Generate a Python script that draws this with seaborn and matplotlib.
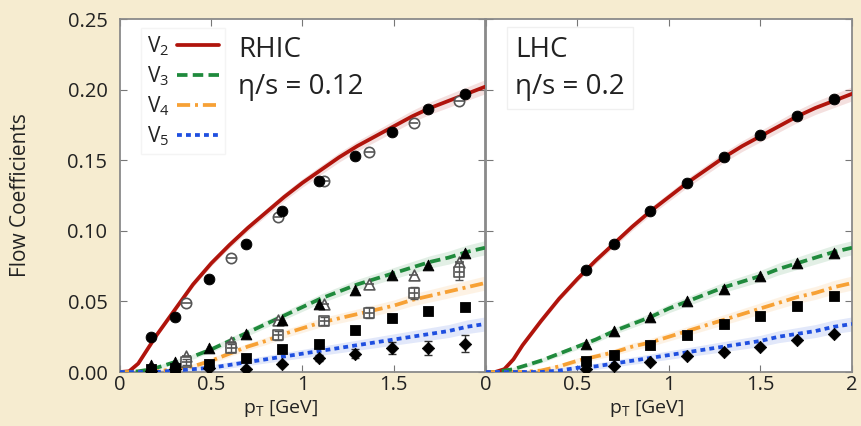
import matplotlib
matplotlib.use("Agg")
import matplotlib.pyplot as plt
import pandas as pd
import numpy as np
import seaborn as sns

sns.set_style("ticks")
plt.rcParams['font.family'] = ['Open Sans', 'DejaVu Sans']

BG = '#f6ecd0'
RED, GREEN, ORANGE, BLUE = '#b0140c', '#1f8a3c', '#f7a135', '#1f4fe0'

### CURVES (hydro calculation) ###
pt_curve = [0, 0.05, 0.1, 0.15, 0.2, 0.3, 0.4, 0.5, 0.6, 0.7, 0.8, 0.9, 1.0, 1.1, 1.2, 1.3, 1.4, 1.5, 1.6, 1.7, 1.8, 1.9, 2.0]

rhic_v2 = [0, 0.0005, 0.006, 0.016, 0.026, 0.044, 0.062, 0.077, 0.090, 0.102, 0.113, 0.124, 0.134, 0.143, 0.152, 0.160, 0.167, 0.174, 0.181, 0.187, 0.192, 0.197, 0.202]
rhic_v3 = [0, 0, 0.0005, 0.0015, 0.003, 0.007, 0.011, 0.016, 0.022, 0.028, 0.034, 0.040, 0.046, 0.052, 0.057, 0.062, 0.066, 0.070, 0.074, 0.078, 0.081, 0.085, 0.088]
rhic_v4 = [0, 0, 0, 0, 0.0005, 0.002, 0.004, 0.008, 0.013, 0.018, 0.022, 0.027, 0.031, 0.035, 0.038, 0.041, 0.044, 0.047, 0.051, 0.054, 0.057, 0.060, 0.063]
rhic_v5 = [0, 0, 0, 0, 0, 0.001, 0.002, 0.003, 0.005, 0.007, 0.009, 0.011, 0.013, 0.015, 0.017, 0.019, 0.021, 0.023, 0.025, 0.027, 0.029, 0.032, 0.034]

lhc_v2 = [0, 0, 0.002, 0.009, 0.019, 0.036, 0.052, 0.066, 0.079, 0.091, 0.103, 0.114, 0.124, 0.134, 0.143, 0.152, 0.160, 0.167, 0.174, 0.181, 0.187, 0.192, 0.197]
lhc_v3 = [0, 0, 0.001, 0.002, 0.004, 0.008, 0.013, 0.018, 0.023, 0.029, 0.034, 0.039, 0.045, 0.050, 0.055, 0.060, 0.064, 0.068, 0.073, 0.077, 0.081, 0.085, 0.088]
lhc_v4 = [0, 0, 0, 0, 0, 0.001, 0.004, 0.008, 0.011, 0.014, 0.018, 0.021, 0.025, 0.029, 0.033, 0.037, 0.041, 0.045, 0.049, 0.053, 0.056, 0.060, 0.063]
lhc_v5 = [0, 0, 0, 0, 0, 0, 0.001, 0.003, 0.004, 0.006, 0.008, 0.010, 0.012, 0.014, 0.016, 0.018, 0.020, 0.022, 0.025, 0.027, 0.029, 0.032, 0.034]

### DATA POINTS ###
rhic_pt = [0.17, 0.30, 0.49, 0.69, 0.89, 1.09, 1.29, 1.49, 1.69, 1.89]
rhic_v2_pts = [0.025, 0.039, 0.066, 0.091, 0.114, 0.135, 0.153, 0.170, 0.186, 0.197]
rhic_v3_pts = [0.005, 0.007, 0.017, 0.027, 0.037, 0.048, 0.058, 0.069, 0.076, 0.084]
rhic_v4_pts = [0.002, 0.003, 0.006, 0.010, 0.016, 0.020, 0.030, 0.038, 0.043, 0.046]
rhic_v5_pts = [0.001, 0.002, 0.003, 0.002, 0.006, 0.010, 0.013, 0.017, 0.017, 0.020]
rhic_v5_err = [0, 0, 0, 0, 0.001, 0.002, 0.003, 0.004, 0.005, 0.006]

# second experiment (open markers)
open_pt = [0.364, 0.61, 0.865, 1.12, 1.366, 1.61, 1.86]
open_v2 = [0.049, 0.081, 0.110, 0.135, 0.156, 0.176, 0.192]
open_v3 = [0.011, 0.021, 0.037, 0.048, 0.062, 0.069, 0.078]
open_v4 = [0.007, 0.017, 0.026, 0.036, 0.042, 0.056, 0.071]
open_v4_err = [0.002, 0.003, 0.003, 0.003, 0.004, 0.004, 0.006]

lhc_pt = [0.545, 0.70, 0.896, 1.098, 1.30, 1.50, 1.70, 1.90]
lhc_v2_pts = [0.072, 0.091, 0.114, 0.134, 0.152, 0.168, 0.181, 0.193]
lhc_v3_pts = [0.020, 0.029, 0.039, 0.050, 0.059, 0.068, 0.077, 0.084]
lhc_v4_pts = [0.008, 0.012, 0.019, 0.026, 0.034, 0.040, 0.047, 0.054]
lhc_v5_pts = [0.002, 0.004, 0.007, 0.011, 0.014, 0.018, 0.023, 0.027]

harmonics = ['V$_\\mathregular{2}$', 'V$_\\mathregular{3}$', 'V$_\\mathregular{4}$', 'V$_\\mathregular{5}$']
colors = [RED, GREEN, ORANGE, BLUE]
styles = ['-', (0, (2.8, 1.4)), (0, (3.5, 1.3, 0.8, 1.3)), (0, (1.3, 1.1))]
markers = ['o', '^', 's', 'D']
msizes = [60, 60, 55, 40]

fig = plt.figure(figsize=(8.62, 4.26), dpi=100, facecolor=BG)
ax1 = fig.add_axes([120/862, 54/426, 365/862, 353/426])
ax2 = fig.add_axes([486/862, 54/426, 366/862, 353/426])

def draw_panel(ax, curves, pts_pt, pts):
    for i, v in enumerate(curves):
        df = pd.DataFrame({'pt': pt_curve, 'v': v})
        band = 0.001 + 0.002 * np.array(pt_curve)
        ax.fill_between(pt_curve, np.array(v) - band, np.array(v) + band,
                        color=colors[i], alpha=0.13, lw=0)
        sns.lineplot(data=df, x='pt', y='v', ax=ax, color=colors[i], lw=2.7,
                     linestyle=styles[i], label=harmonics[i], zorder=3)
    for i, v in enumerate(pts):
        dp = pd.DataFrame({'pt': pts_pt, 'v': v})
        sns.scatterplot(data=dp, x='pt', y='v', ax=ax, marker=markers[i], s=msizes[i],
                        color='black', edgecolor='black', zorder=5, legend=False)

draw_panel(ax1, [rhic_v2, rhic_v3, rhic_v4, rhic_v5], rhic_pt,
           [rhic_v2_pts, rhic_v3_pts, rhic_v4_pts, rhic_v5_pts])
draw_panel(ax2, [lhc_v2, lhc_v3, lhc_v4, lhc_v5], lhc_pt,
           [lhc_v2_pts, lhc_v3_pts, lhc_v4_pts, lhc_v5_pts])

# error bars on RHIC v5 and open markers
ax1.errorbar(rhic_pt, rhic_v5_pts, yerr=rhic_v5_err, fmt='none', ecolor='#333333', lw=1, capsize=3, zorder=4)
for vals, m, s in [(open_v2, 'o', 55), (open_v3, '^', 60), (open_v4, 's', 60)]:
    do = pd.DataFrame({'pt': open_pt, 'v': vals})
    sns.scatterplot(data=do, x='pt', y='v', ax=ax1, marker=m, s=s, facecolor='white',
                    edgecolor='#555555', linewidth=1.2, zorder=4, legend=False)
    ax1.errorbar(open_pt, vals, xerr=0.025, fmt='none', ecolor='#555555', lw=1.2, zorder=4)
ax1.errorbar(open_pt, open_v4, yerr=open_v4_err, fmt='none', ecolor='#555555', lw=1, capsize=3, zorder=4)

for ax in (ax1, ax2):
    ax.set_xlim(0, 2)
    ax.set_ylim(0, 0.25)
    ax.set_facecolor('white')
    ax.set_xticks([0, 0.5, 1, 1.5, 2])
    ax.set_yticks([0, 0.05, 0.10, 0.15, 0.20, 0.25])
    ax.tick_params(direction='in', top=True, right=True, length=5, color='#777777',
                   labelsize=14.5, labelcolor='#222222')
    ax.tick_params(axis='y', pad=9)
    ax.tick_params(axis='x', pad=2)
    for sp in ax.spines.values():
        sp.set_color('#8a8a8a')
        sp.set_linewidth(1.3)
    ax.set_xlabel('p$_\\mathregular{T}$ [GeV]', fontsize=14, color='#222222', labelpad=-3)
    ax.xaxis.set_label_coords(0.44, -0.075)
    ax.set_ylabel('')

ax1.set_xticklabels(['0', '0.5', '1', '1.5', ''])
ax2.set_xticklabels(['0', '0.5', '1', '1.5', '2'])
ax1.set_yticklabels(['0.00', '0.05', '0.10', '0.15', '0.20', '0.25'])
ax2.set_yticklabels([])
ax1.set_ylabel('Flow Coefficients', fontsize=15, color='#222222')
ax1.yaxis.set_label_coords(-0.243, 0.5)

leg = ax1.legend(loc='upper left', bbox_to_anchor=(0.045, 0.985), markerfirst=False, fontsize=15,
                 handlelength=2.0, handletextpad=0.35, labelspacing=0.3, frameon=True,
                 fancybox=False, borderaxespad=0.2, borderpad=0.3)
leg.get_frame().set_edgecolor('#f2f2f2')
for t in leg.get_texts():
    t.set_color('#222222')
if ax2.get_legend() is not None:
    ax2.get_legend().remove()

ax1.text(0.323, 0.86, 'RHIC\n\u03b7/s = 0.12', transform=ax1.transAxes, fontsize=20, color='#222222',
         va='center', linespacing=1.45, bbox=dict(facecolor='white', edgecolor='none', pad=3))
ax2.text(0.08, 0.86, 'LHC\n\u03b7/s = 0.2', transform=ax2.transAxes, fontsize=20, color='#222222',
         va='center', linespacing=1.45, bbox=dict(facecolor='white', edgecolor='#f0f0f0', pad=6))

fig.savefig('out.png', dpi=100, facecolor=BG)
